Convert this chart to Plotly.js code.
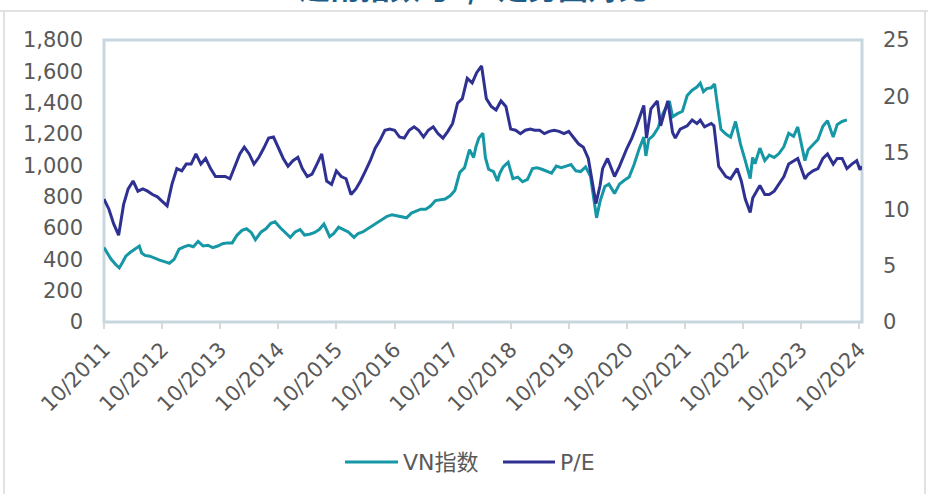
<!DOCTYPE html>
<html>
<head>
<meta charset="utf-8">
<script src="https://cdn.plot.ly/plotly-3.0.1.min.js"></script>
<style>html,body{margin:0;padding:0;background:#fff;}#chart{width:928px;height:494px;}</style>
</head>
<body>
<div id="chart"></div>
<script>
const titleText = '越南指数与P/E走势图对比';
const seriesNames = ['VN指数', 'P/E'];

const vnDates = ['2011-10-01','2011-10-20','2011-11-15','2011-12-15','2012-01-05','2012-01-25','2012-02-15','2012-03-15','2012-04-15','2012-05-10','2012-05-25','2012-06-15','2012-07-15','2012-08-15','2012-09-15','2012-10-15','2012-11-15','2012-12-15','2013-01-15','2013-02-15','2013-03-15','2013-04-15','2013-05-15','2013-06-15','2013-07-15','2013-08-15','2013-09-15','2013-10-15','2013-11-15','2013-12-15','2014-01-15','2014-02-15','2014-03-15','2014-04-15','2014-05-10','2014-06-15','2014-07-15','2014-08-15','2014-09-10','2014-10-15','2014-11-15','2014-12-15','2015-01-15','2015-02-15','2015-03-15','2015-04-15','2015-05-15','2015-06-15','2015-07-15','2015-08-20','2015-09-15','2015-10-15','2015-11-15','2015-12-15','2016-01-20','2016-02-15','2016-03-15','2016-04-15','2016-05-15','2016-06-15','2016-07-15','2016-08-15','2016-09-15','2016-10-15','2016-11-15','2016-12-15','2017-01-15','2017-02-15','2017-03-15','2017-04-15','2017-05-15','2017-06-15','2017-07-15','2017-08-15','2017-09-15','2017-10-15','2017-11-15','2017-12-15','2018-01-15','2018-02-10','2018-02-25','2018-03-15','2018-04-09','2018-04-25','2018-05-15','2018-06-15','2018-07-10','2018-07-25','2018-08-15','2018-09-15','2018-10-15','2018-11-15','2018-12-15','2019-01-15','2019-02-15','2019-03-15','2019-04-15','2019-05-15','2019-06-15','2019-07-15','2019-08-15','2019-09-15','2019-10-15','2019-11-15','2019-12-15','2020-01-15','2020-02-15','2020-03-24','2020-04-15','2020-05-15','2020-06-10','2020-07-15','2020-08-15','2020-09-15','2020-10-15','2020-11-15','2020-12-15','2021-01-15','2021-01-28','2021-02-15','2021-03-15','2021-04-15','2021-05-15','2021-06-25','2021-07-15','2021-08-15','2021-09-15','2021-10-15','2021-11-15','2021-12-15','2022-01-05','2022-01-25','2022-02-15','2022-03-15','2022-04-05','2022-04-25','2022-05-15','2022-06-15','2022-07-15','2022-08-15','2022-09-15','2022-10-15','2022-11-15','2022-11-30','2022-12-15','2023-01-15','2023-02-15','2023-03-15','2023-04-15','2023-05-15','2023-06-15','2023-07-15','2023-08-15','2023-09-10','2023-09-30','2023-10-25','2023-11-15','2023-12-15','2024-01-15','2024-02-15','2024-03-15','2024-04-20','2024-05-15','2024-06-15','2024-07-15'];
const vnValues = [475,440,400,365,345,380,420,445,470,485,440,425,420,405,395,385,375,400,465,480,490,480,515,485,490,475,485,500,505,505,555,585,595,570,525,575,595,630,640,600,570,540,575,590,555,560,570,590,625,545,565,605,590,575,540,565,575,595,615,630,650,675,685,680,670,665,695,710,720,720,740,775,780,785,805,840,955,985,1100,1050,1120,1175,1205,1050,975,960,900,950,990,1020,915,925,895,910,980,985,975,965,950,995,985,995,1005,965,960,990,930,665,770,865,880,820,880,905,925,1005,1100,1180,1060,1165,1190,1240,1330,1410,1310,1330,1345,1445,1480,1500,1525,1470,1490,1495,1520,1370,1230,1200,1180,1280,1135,1030,915,1050,1010,1110,1030,1065,1050,1075,1120,1205,1185,1245,1155,1030,1100,1130,1165,1250,1285,1180,1260,1280,1290];

const peDates = ['2011-10-01','2011-11-01','2011-12-01','2012-01-01','2012-02-01','2012-03-01','2012-04-01','2012-05-01','2012-06-01','2012-07-01','2012-08-01','2012-09-01','2012-10-01','2012-11-01','2012-12-01','2013-01-01','2013-02-01','2013-03-01','2013-04-01','2013-05-01','2013-06-01','2013-07-01','2013-08-01','2013-09-01','2013-10-01','2013-11-01','2013-12-01','2014-01-01','2014-02-01','2014-03-01','2014-04-01','2014-05-01','2014-06-01','2014-07-01','2014-08-01','2014-09-01','2014-10-01','2014-11-01','2014-12-01','2015-01-01','2015-02-01','2015-03-01','2015-04-01','2015-05-01','2015-06-01','2015-07-01','2015-08-01','2015-09-01','2015-10-01','2015-11-01','2015-12-01','2016-01-01','2016-02-01','2016-03-01','2016-04-01','2016-05-01','2016-06-01','2016-07-01','2016-08-01','2016-09-01','2016-10-01','2016-11-01','2016-12-01','2017-01-01','2017-02-01','2017-03-01','2017-04-01','2017-05-01','2017-06-01','2017-07-01','2017-08-01','2017-09-01','2017-10-01','2017-11-01','2017-12-01','2018-01-01','2018-02-01','2018-03-01','2018-04-01','2018-05-01','2018-06-01','2018-07-01','2018-08-01','2018-09-01','2018-10-01','2018-11-01','2018-12-01','2019-01-01','2019-02-01','2019-03-01','2019-04-01','2019-05-01','2019-06-01','2019-07-01','2019-08-01','2019-09-01','2019-10-01','2019-11-01','2019-12-01','2020-01-01','2020-02-01','2020-03-20','2020-04-15','2020-05-01','2020-06-01','2020-07-15','2020-08-15','2020-10-01','2020-11-01','2020-12-01','2021-01-15','2021-02-01','2021-03-01','2021-04-10','2021-05-01','2021-06-15','2021-07-15','2021-08-01','2021-09-01','2021-10-15','2021-11-15','2021-12-15','2022-01-05','2022-02-01','2022-03-15','2022-04-01','2022-05-01','2022-06-15','2022-07-15','2022-08-25','2022-09-20','2022-10-15','2022-11-15','2022-12-01','2023-01-15','2023-02-15','2023-03-15','2023-04-15','2023-05-15','2023-06-15','2023-07-15','2023-08-15','2023-09-10','2023-10-25','2023-11-15','2023-12-15','2024-01-15','2024-02-15','2024-03-15','2024-04-20','2024-05-15','2024-06-15','2024-07-15','2024-08-15','2024-09-15','2024-10-05','2024-10-18'];
const peValues = [10.9,10.0,8.7,7.7,10.4,11.8,12.5,11.6,11.8,11.6,11.3,11.1,10.7,10.3,12.2,13.6,13.4,14.0,14.0,14.9,14.0,14.5,13.6,12.9,12.9,12.9,12.7,13.8,14.9,15.5,14.9,14.0,14.6,15.4,16.3,16.4,15.4,14.5,13.8,14.3,14.6,13.6,12.9,13.1,14.0,14.9,12.5,12.2,13.4,12.9,12.7,11.3,11.8,12.5,13.4,14.3,15.4,16.1,17.0,17.1,17.0,16.4,16.3,17.0,17.3,17.0,16.4,17.0,17.3,16.7,16.3,16.9,17.6,19.4,19.8,21.6,21.2,22.1,22.7,19.8,19.1,18.8,19.6,19.1,17.1,17.0,16.7,17.0,17.1,17.0,17.0,16.7,16.9,17.0,16.9,16.7,16.9,16.3,15.8,15.5,14.5,10.5,12.1,13.6,14.5,12.9,13.8,15.4,16.3,17.4,19.2,16.3,18.9,19.6,17.4,19.6,16.8,16.3,17.1,17.4,17.9,17.6,17.9,17.3,17.6,17.4,13.8,12.9,12.7,13.6,12.5,10.9,9.7,11.0,12.1,11.3,11.3,11.6,12.2,12.9,14.0,14.3,14.5,12.7,13.1,13.4,13.6,14.5,14.9,14.0,14.5,14.5,13.6,14.0,14.3,13.5,13.8];

const colors = ['#1597a5', '#2e3191'];
const gray = '#595959';
const font = {family: 'DejaVu Sans, Noto Sans CJK SC, sans-serif', size: 21, color: gray};

// pixel helpers for decorations (plot area: x 104..862, y 40..322)
const px = x => (x - 104) / 758;
const py = y => (322 - y) / 282;

const traces = [
  {x: vnDates, y: vnValues, name: seriesNames[0], type: 'scatter', mode: 'lines',
   line: {color: colors[0], width: 3}, yaxis: 'y'},
  {x: peDates, y: peValues, name: seriesNames[1], type: 'scatter', mode: 'lines',
   line: {color: colors[1], width: 3}, yaxis: 'y2'}
];

const legendY = py(462);
const layout = {
  width: 928, height: 494,
  margin: {l: 104, r: 66, t: 40, b: 172},
  paper_bgcolor: '#ffffff', plot_bgcolor: '#ffffff',
  font: font,
  showlegend: false,
  hovermode: false,
  xaxis: {type: 'date', range: ['2011-10-01', '2024-10-18'], tick0: '2011-10-01', dtick: 'M12',
          tickformat: '%m/%Y', tickangle: -45, showgrid: false, zeroline: false,
          ticks: 'outside', ticklen: 6, tickwidth: 2, tickcolor: '#d9d9d9',
          showline: false, tickfont: font},
  yaxis: {range: [0, 1800], dtick: 200, tickformat: ',d', showgrid: false, zeroline: false,
          showline: false, ticks: '', ticklabelstandoff: 20, tickfont: font},
  yaxis2: {range: [0, 25], dtick: 5, overlaying: 'y', side: 'right', showgrid: false, zeroline: false,
           showline: false, ticks: '', ticklabelstandoff: 20, tickfont: font},
  shapes: [
    {type: 'rect', xref: 'paper', yref: 'paper', x0: 0, x1: 1, y0: 0, y1: 1,
     line: {color: '#c8d7df', width: 3}, layer: 'below'},
    {type: 'line', xref: 'paper', yref: 'paper', x0: px(0), x1: px(928), y0: py(11), y1: py(11),
     line: {color: '#d9d9d9', width: 1.5}},
    {type: 'line', xref: 'paper', yref: 'paper', x0: px(4), x1: px(4), y0: py(11), y1: py(494),
     line: {color: '#d9d9d9', width: 1.5}},
    {type: 'line', xref: 'paper', yref: 'paper', x0: px(925), x1: px(925), y0: py(11), y1: py(494),
     line: {color: '#d9d9d9', width: 1.5}},
    // legend samples
    {type: 'line', xref: 'paper', yref: 'paper', x0: px(345), x1: px(398), y0: legendY, y1: legendY,
     line: {color: colors[0], width: 3}},
    {type: 'line', xref: 'paper', yref: 'paper', x0: px(503), x1: px(555), y0: legendY, y1: legendY,
     line: {color: colors[1], width: 3}}
  ],
  annotations: [
    {text: '<b>' + titleText + '</b>', xref: 'paper', yref: 'paper', x: px(474), y: py(10),
     xanchor: 'center', yanchor: 'bottom', showarrow: false,
     font: {family: 'Noto Sans CJK SC, sans-serif', size: 30, color: '#1f5c87'}},
    {text: seriesNames[0], xref: 'paper', yref: 'paper', x: px(401), y: legendY,
     xanchor: 'left', yanchor: 'middle', showarrow: false, font: {family: font.family, size: 22, color: gray}},
    {text: seriesNames[1], xref: 'paper', yref: 'paper', x: px(558), y: legendY,
     xanchor: 'left', yanchor: 'middle', showarrow: false, font: {family: font.family, size: 22, color: gray}}
  ]
};

Plotly.newPlot('chart', traces, layout, {staticPlot: true, displayModeBar: false});
</script>
</body>
</html>
